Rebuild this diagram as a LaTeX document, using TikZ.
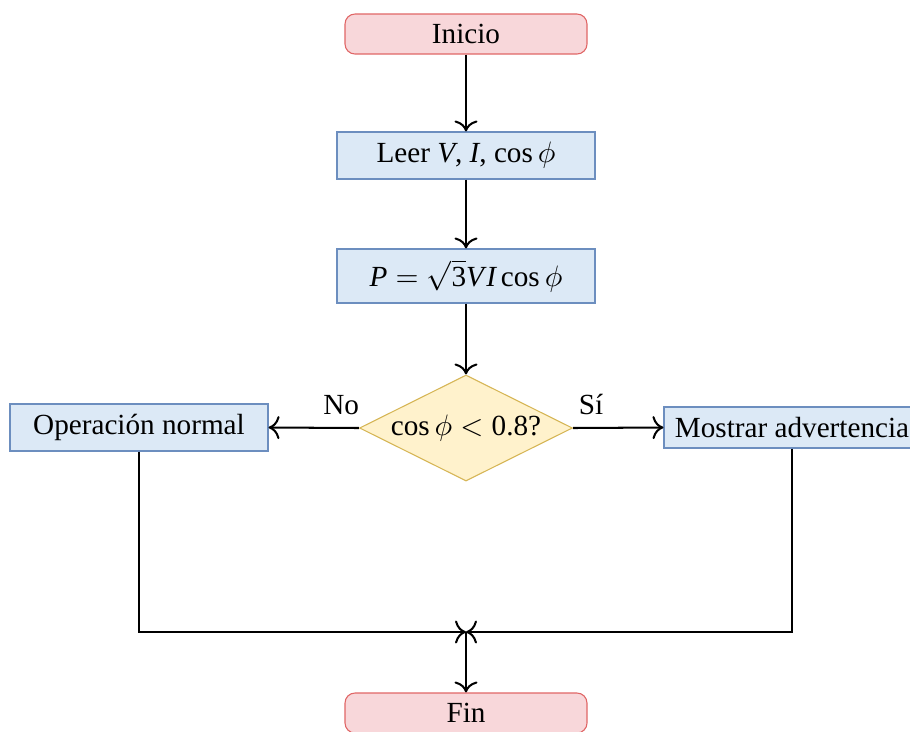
\documentclass[tikz,border=0pt]{standalone}
\usepackage{fontspec}
\setmainfont{Liberation Serif}
\usetikzlibrary{shapes.geometric,arrows.meta}
\definecolor{redfill}{HTML}{F8D7DA}
\definecolor{redline}{HTML}{E06666}
\definecolor{bluefill}{HTML}{DCE9F6}
\definecolor{blueline}{HTML}{6C8EBF}
\definecolor{yelfill}{HTML}{FFF2CC}
\definecolor{yelline}{HTML}{D6B656}
\begin{document}
\begin{tikzpicture}[x=0.37pt,y=-0.37pt,
  every node/.style={font=\fontsize{10.8pt}{13pt}\selectfont},
  term/.style={draw=redline,fill=redfill,rounded corners=3.7pt,minimum width=242*0.37pt,minimum height=40*0.37pt,inner sep=0pt},
  proc/.style={draw=blueline,fill=bluefill,minimum width=258*0.37pt,minimum height=47*0.37pt,inner sep=0pt},
  decision/.style={diamond,aspect=2,draw=yelline,fill=yelfill,minimum width=213*0.37pt,minimum height=106*0.37pt,inner sep=0pt},
  lbl/.style={inner sep=0pt,yshift=4.4pt},
  conn/.style={-{To[scale=1.25]},line width=0.75pt}]
\useasboundingbox (0,0) rectangle (910,731);
\node[term] (inicio) at (466,34) {Inicio};
\node[proc] (leer) at (466,155.5) {Leer \textit{V}, \textit{I}, cos\,$\phi$};
\node[proc,minimum height=54*0.37pt] (calc) at (466,276) {$\mbox{\itshape P} = \sqrt{\mbox{3}}\mbox{\itshape V\kern0.08em I}\,\mbox{cos}\,\phi$};
\node[decision] (dec) at (466,428) {$\mbox{cos}\,\phi < \mbox{0.8?}$};
\node[proc] (normal) at (139,427.5) {Operación normal};
\node[proc,minimum width=256*0.37pt,minimum height=41*0.37pt] (warn) at (792,427.5) {Mostrar advertencia};
\node[term] (fin) at (466,713) {Fin};
\coordinate (m) at (466,632);
\draw[conn] (inicio) -- (leer);
\draw[conn] (leer) -- (calc);
\draw[conn] (calc) -- (dec);
\draw[conn] (dec.west) -- (normal.east) node[pos=0,lbl,anchor=south east,xshift=0.4pt] {No};
\draw[conn] (dec.east) -- (warn.west) node[pos=0,lbl,anchor=south west,xshift=1.8pt] {Sí};
\draw[conn] (normal.south) |- (m);
\draw[conn] (warn.south) |- (m);
\draw[conn] (m) -- (fin);
\end{tikzpicture}
\end{document}
